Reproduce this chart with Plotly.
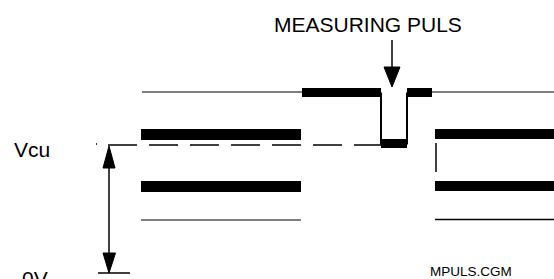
import plotly.graph_objects as go

# ---- diagram data (time axis / voltage-level axis, drawing units) ----
LEFT_SPAN = [141, 301]          # time span of left reference levels
RIGHT_SPAN = [435, 554]         # time span of right reference levels
BAR_LEVELS = [134.5, 186.5]     # thick reference levels
THIN_LEVELS = [220, 219.5]      # thin lower level (left, right)

SIG_THIN_L = [142, 302]         # measuring signal, thin part before pulse
SIG_BAR_L = [302, 381]          # thick part before pulse
SIG_DIP = [381, 407]            # the measuring pulse (dip)
SIG_BAR_R = [407, 432]          # thick part after pulse
SIG_THIN_R = [432, 554]         # thin part after pulse
SIG_HIGH = 92.5
SIG_LOW = 143.5

VCU_LEVEL = 145
VCU_SPAN = [108, 381]
ZERO_LEVEL = 273
ZERO_SPAN = [98, 130]
DIM_X = 109
EDGE_X = 436
EDGE_SPAN = [143, 172]
MEAS_X = 392
MEAS_SPAN = [40, 87]

LABELS = ["MEASURING PULS", "Vcu", "0V", "MPULS.CGM"]

fig = go.Figure()
BLACK = "#000000"


def seg(xs, ys, width, dash=None):
    fig.add_trace(go.Scatter(x=xs, y=ys, mode="lines",
                             line=dict(color=BLACK, width=width, dash=dash),
                             hoverinfo="skip", showlegend=False))


def tri(xs, ys):
    fig.add_trace(go.Scatter(x=xs, y=ys, mode="lines", fill="toself",
                             fillcolor=BLACK, line=dict(color=BLACK, width=1),
                             hoverinfo="skip", showlegend=False))


# signal trace
seg(SIG_THIN_L, [SIG_HIGH - 0.5] * 2, 1.2)
seg(SIG_BAR_L, [SIG_HIGH] * 2, 9)
seg(SIG_BAR_R, [SIG_HIGH] * 2, 9)
seg(SIG_THIN_R, [SIG_HIGH - 0.5] * 2, 1.2)
seg([SIG_DIP[0], SIG_DIP[0], SIG_DIP[1], SIG_DIP[1]],
    [SIG_HIGH, SIG_LOW, SIG_LOW, SIG_HIGH], 2)
seg(SIG_DIP, [SIG_LOW] * 2, 9)

# reference levels
for lvl in BAR_LEVELS:
    seg(LEFT_SPAN, [lvl] * 2, 11)
    seg(RIGHT_SPAN, [lvl - 0.5] * 2, 10)
seg(LEFT_SPAN, [THIN_LEVELS[0]] * 2, 1.2)
seg(RIGHT_SPAN, [THIN_LEVELS[1]] * 2, 1.5)

# Vcu dashed level
seg(VCU_SPAN, [VCU_LEVEL] * 2, 1.3, dash="29px,12px")
seg([96, 97], [VCU_LEVEL - 1] * 2, 1.5)
seg([EDGE_X, EDGE_X], EDGE_SPAN, 1.5)

# 0V base and dimension arrow
seg(ZERO_SPAN, [ZERO_LEVEL] * 2, 1.5)
seg([DIM_X, DIM_X], [VCU_LEVEL + 10, ZERO_LEVEL - 10], 1.5)
tri([DIM_X, DIM_X - 6, DIM_X + 6, DIM_X], [VCU_LEVEL + 1, VCU_LEVEL + 23, VCU_LEVEL + 23, VCU_LEVEL + 1])
tri([DIM_X, DIM_X - 6, DIM_X + 6.5, DIM_X], [ZERO_LEVEL, ZERO_LEVEL - 20, ZERO_LEVEL - 20, ZERO_LEVEL])

# measuring pulse arrow
seg([MEAS_X, MEAS_X], [MEAS_SPAN[0], MEAS_SPAN[1] - 15], 1.5)
tri([MEAS_X, MEAS_X - 8, MEAS_X + 8, MEAS_X], [MEAS_SPAN[1], MEAS_SPAN[1] - 20, MEAS_SPAN[1] - 20, MEAS_SPAN[1]])

FONT = "Liberation Sans, Arial, Helvetica, sans-serif"
ann = [
    dict(text=LABELS[0], x=367.5, y=24, xanchor="center", size=21),
    dict(text=LABELS[1], x=12, y=149.5, xanchor="left", size=21),
    dict(text=LABELS[2], x=20, y=278.5, xanchor="left", size=21),
    dict(text=LABELS[3], x=428, y=271.5, xanchor="left", size=13.5),
]
for a in ann:
    fig.add_annotation(text=a["text"], x=a["x"], y=a["y"], xref="x", yref="y",
                       xanchor=a["xanchor"], yanchor="middle", showarrow=False,
                       font=dict(family=FONT, size=a["size"], color=BLACK))

fig.update_layout(
    width=554, height=279,
    margin=dict(l=0, r=0, t=0, b=0),
    paper_bgcolor="white", plot_bgcolor="white",
    xaxis=dict(range=[0, 554], visible=False, fixedrange=True),
    yaxis=dict(range=[279, 0], visible=False, fixedrange=True),
    showlegend=False,
)

fig.write_html("out.html", config=dict(displayModeBar=False),
               post_script="document.body.style.margin='0';document.body.style.overflow='hidden';")
